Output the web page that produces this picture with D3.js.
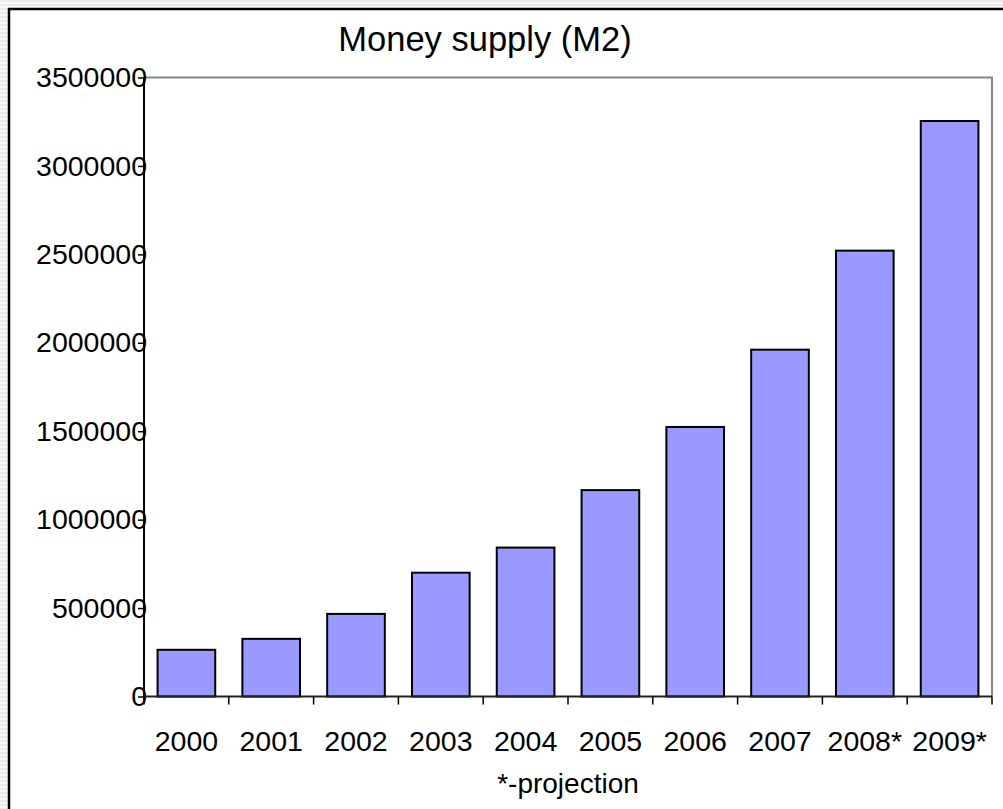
<!DOCTYPE html>
<html>
<head>
<meta charset="utf-8">
<script src="https://cdn.jsdelivr.net/npm/d3@7"></script>
<style>
  html, body { margin: 0; padding: 0; background: #fff; }
  svg { display: block; font-family: "Liberation Sans", Arial, sans-serif; }
</style>
</head>
<body>
<script>
// Money supply (M2), yearly totals; 2008 and 2009 are projections
const years = ["2000", "2001", "2002", "2003", "2004", "2005", "2006", "2007", "2008*", "2009*"];
const m2Values = [264000, 326000, 467000, 700000, 842000, 1167000, 1524000, 1961000, 2521000, 3254000];
const yTicks = [0, 500000, 1000000, 1500000, 2000000, 2500000, 3000000, 3500000];
const titleText = "Money supply (M2)";
const footnote = "*-projection";

const W = 1003, H = 809;
const plot = { left: 144, right: 992, top: 77.5, bottom: 696.5 };

const svg = d3.select("body").append("svg")
  .attr("width", W).attr("height", H);

// striped sheet background outside the chart frame
const defs = svg.append("defs");
const pat = defs.append("pattern")
  .attr("id", "sheet").attr("width", 4).attr("height", 4)
  .attr("patternUnits", "userSpaceOnUse");
pat.append("rect").attr("width", 4).attr("height", 4).attr("fill", "#ececec");
pat.append("rect").attr("y", 2).attr("width", 4).attr("height", 2).attr("fill", "#f8f8f8");
svg.append("rect").attr("width", W).attr("height", H).attr("fill", "url(#sheet)");

// chart frame
svg.append("rect")
  .attr("x", 9).attr("y", 9).attr("width", W + 20).attr("height", H + 20)
  .attr("fill", "#fff").attr("stroke", "#000").attr("stroke-width", 2.5);

const x = d3.scaleBand()
  .domain(years)
  .range([plot.left, plot.right])
  .paddingInner(0.32)
  .paddingOuter(0.16);

const y = d3.scaleLinear()
  .domain([0, 3500000])
  .range([plot.bottom, plot.top]);

// plot area border (top and right)
svg.append("path")
  .attr("d", `M${plot.left},${plot.top}H${plot.right}V${plot.bottom}`)
  .attr("fill", "none").attr("stroke", "#858585").attr("stroke-width", 2);

// bars
svg.append("g").selectAll("rect")
  .data(years.map((c, i) => ({ c, v: m2Values[i] })))
  .join("rect")
  .attr("x", d => x(d.c))
  .attr("y", d => y(d.v))
  .attr("width", x.bandwidth())
  .attr("height", d => y(0) - y(d.v))
  .attr("fill", "#9999ff")
  .attr("stroke", "#000")
  .attr("stroke-width", 2);

// y axis
const yAxis = svg.append("g")
  .attr("transform", `translate(${plot.left},0)`)
  .call(d3.axisLeft(y).tickValues(yTicks).tickFormat(d3.format("d")).tickSize(6).tickPadding(-9));
yAxis.select(".domain").attr("d", `M0,${plot.top}V${plot.bottom}`).attr("stroke", "#000").attr("stroke-width", 2);
yAxis.selectAll(".tick line").attr("stroke", "#000").attr("stroke-width", 1.5);
yAxis.selectAll(".tick text")
  .attr("font-size", 28.5).attr("fill", "#000")
  .attr("font-family", "Liberation Sans, Arial, sans-serif");

// x axis line and category boundary ticks
const xAxis = svg.append("g")
  .attr("transform", `translate(0,${plot.bottom})`)
  .call(d3.axisBottom(x).tickSize(0).tickPadding(0));
xAxis.select(".domain").attr("d", `M${plot.left},0H${plot.right}`).attr("stroke", "#222").attr("stroke-width", 2);
xAxis.selectAll(".tick text")
  .attr("y", 54.5).attr("dy", 0)
  .attr("font-size", 28.5).attr("fill", "#000")
  .attr("font-family", "Liberation Sans, Arial, sans-serif");
const bounds = d3.range(years.length + 1).map(i => plot.left + i * x.step());
xAxis.append("g").selectAll("line")
  .data(bounds)
  .join("line")
  .attr("x1", d => d).attr("x2", d => d)
  .attr("y1", 0).attr("y2", 8)
  .attr("stroke", "#000").attr("stroke-width", 1.5);

// title
svg.append("text")
  .attr("x", 485).attr("y", 51)
  .attr("text-anchor", "middle")
  .attr("font-size", 34.5)
  .text(titleText);

// axis footnote
svg.append("text")
  .attr("x", (plot.left + plot.right) / 2).attr("y", 793)
  .attr("text-anchor", "middle")
  .attr("font-size", 28)
  .text(footnote);
</script>
</body>
</html>
